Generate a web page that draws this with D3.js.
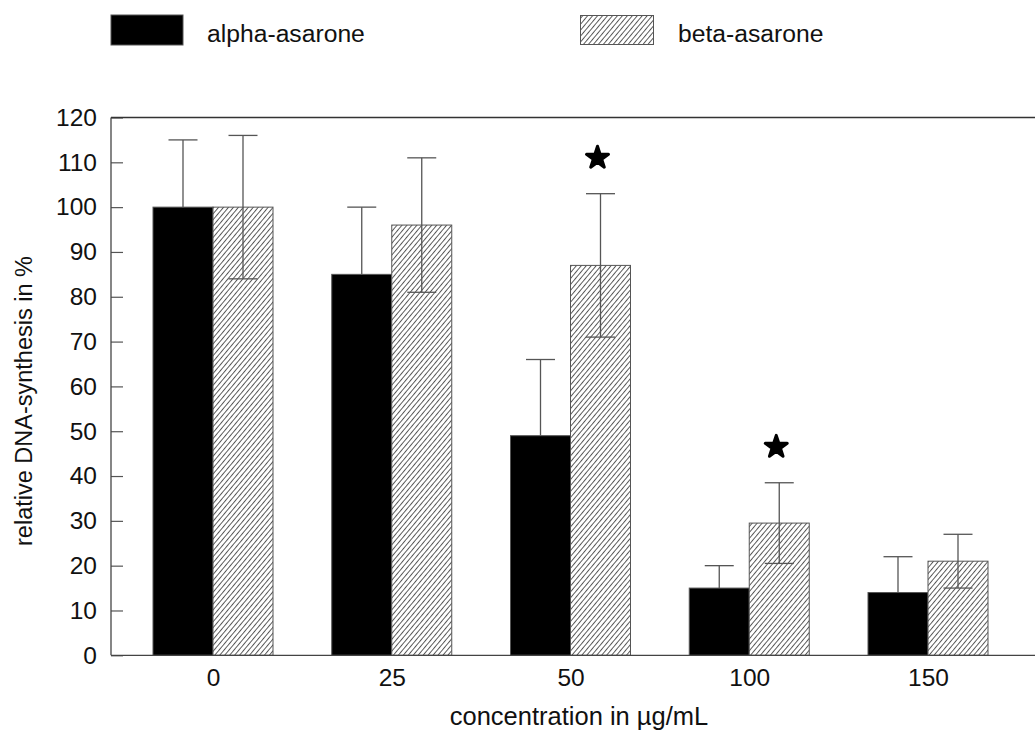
<!DOCTYPE html>
<html>
<head>
<meta charset="utf-8">
<script src="https://cdn.jsdelivr.net/npm/d3@7"></script>
<style>
  html, body { margin: 0; padding: 0; background: #fff; }
  svg { display: block; font-family: "Liberation Sans", Arial, sans-serif; }
</style>
</head>
<body>
<svg id="chart" width="1035" height="730"></svg>
<script>
// ---- data ----
const categories = ["0", "25", "50", "100", "150"];
const alphaMean = [100, 85, 49, 15, 14];
const alphaSD   = [15, 15, 17, 5, 8];
const betaMean  = [100, 96, 87, 29.5, 21];
const betaSD    = [16, 15, 16, 9, 6];
const betaSignificant = [false, false, true, true, false];
const yTicks = [0, 10, 20, 30, 40, 50, 60, 70, 80, 90, 100, 110, 120];
const seriesNames = ["alpha-asarone", "beta-asarone"];

// ---- layout ----
const W = 1035, H = 730;
const plotLeft = 111, plotRight = 1035, plotTop = 117.5, plotBottom = 655.3;
const barW = 60, capW = 29;
const gray = "#555";

const svg = d3.select("#chart");

const defs = svg.append("defs");
const pat = defs.append("pattern")
  .attr("id", "hatch")
  .attr("patternUnits", "userSpaceOnUse")
  .attr("width", 3.8).attr("height", 10)
  .attr("patternTransform", "rotate(40)");
pat.append("rect").attr("width", 3.8).attr("height", 10).attr("fill", "#fff");
pat.append("line").attr("x1", 0.5).attr("y1", 0).attr("x2", 0.5).attr("y2", 10)
  .attr("stroke", "#444").attr("stroke-width", 0.9);

const x = d3.scalePoint().domain(categories).range([213, 928]);
const y = d3.scaleLinear().domain([0, 120]).range([plotBottom, plotTop]);

// bars
const g = svg.append("g");
categories.forEach((c, i) => {
  const cx = x(c);
  g.append("rect")
    .attr("x", cx - barW).attr("y", y(alphaMean[i]))
    .attr("width", barW).attr("height", y(0) - y(alphaMean[i]))
    .attr("fill", "#000").attr("stroke", gray).attr("stroke-width", 1);
  g.append("rect")
    .attr("x", cx).attr("y", y(betaMean[i]))
    .attr("width", barW).attr("height", y(0) - y(betaMean[i]))
    .attr("fill", "url(#hatch)").attr("stroke", gray).attr("stroke-width", 1);
});

// error bars
categories.forEach((c, i) => {
  const ax = x(c) - barW / 2;
  const bx = x(c) + barW / 2;
  g.append("line").attr("x1", ax).attr("x2", ax)
    .attr("y1", y(alphaMean[i])).attr("y2", y(alphaMean[i] + alphaSD[i]))
    .attr("stroke", gray).attr("stroke-width", 1.3);
  g.append("line").attr("x1", ax - capW / 2).attr("x2", ax + capW / 2)
    .attr("y1", y(alphaMean[i] + alphaSD[i])).attr("y2", y(alphaMean[i] + alphaSD[i]))
    .attr("stroke", gray).attr("stroke-width", 1.3);
  g.append("line").attr("x1", bx).attr("x2", bx)
    .attr("y1", y(betaMean[i] - betaSD[i])).attr("y2", y(betaMean[i] + betaSD[i]))
    .attr("stroke", gray).attr("stroke-width", 1.3);
  [betaMean[i] + betaSD[i], betaMean[i] - betaSD[i]].forEach(v => {
    g.append("line").attr("x1", bx - capW / 2).attr("x2", bx + capW / 2)
      .attr("y1", y(v)).attr("y2", y(v))
      .attr("stroke", gray).attr("stroke-width", 1.3);
  });
  if (betaSignificant[i]) {
    g.append("path")
      .attr("d", d3.symbol(d3.symbolStar, 150)())
      .attr("transform", `translate(${bx - 3},${y(betaMean[i] + betaSD[i] + 8)})`)
      .attr("fill", "#000").attr("stroke", "#000")
      .attr("stroke-width", 3).attr("stroke-linejoin", "round");
  }
});

// y axis
const yAxis = d3.axisLeft(y).tickValues(yTicks)
  .tickSizeInner(-12).tickSizeOuter(0).tickPadding(14);
const yg = svg.append("g").attr("transform", `translate(${plotLeft},0)`).call(yAxis);
yg.select(".domain").remove();
yg.selectAll(".tick line").attr("stroke", gray).attr("stroke-width", 1.2);
yg.selectAll(".tick text").attr("font-size", 24.5).attr("fill", "#111")
  .attr("font-family", "Liberation Sans, Arial, sans-serif");

// x axis labels
const xAxis = d3.axisBottom(x).tickSize(0).tickPadding(13);
const xg = svg.append("g").attr("transform", `translate(0,${plotBottom})`).call(xAxis);
xg.select(".domain").remove();
xg.selectAll(".tick text").attr("font-size", 24.5).attr("fill", "#111")
  .attr("font-family", "Liberation Sans, Arial, sans-serif");

// frame lines
svg.append("line").attr("x1", plotLeft).attr("x2", plotRight)
  .attr("y1", plotTop).attr("y2", plotTop).attr("stroke", "#333").attr("stroke-width", 1.5);
svg.append("line").attr("x1", plotLeft).attr("x2", plotRight)
  .attr("y1", plotBottom).attr("y2", plotBottom).attr("stroke", "#444").attr("stroke-width", 1.3);
svg.append("line").attr("x1", plotLeft).attr("x2", plotLeft)
  .attr("y1", plotTop).attr("y2", plotBottom).attr("stroke", "#444").attr("stroke-width", 1.3);

// axis titles
svg.append("text").attr("x", 579).attr("y", 725).attr("text-anchor", "middle")
  .attr("font-size", 25.5).attr("fill", "#111").text("concentration in µg/mL");
svg.append("text").attr("transform", "translate(32,401) rotate(-90)")
  .attr("text-anchor", "middle").attr("font-size", 23.5).attr("fill", "#111")
  .text("relative DNA-synthesis in %");

// legend
const legend = svg.append("g");
legend.append("rect").attr("x", 111).attr("y", 15).attr("width", 72).attr("height", 30)
  .attr("fill", "#000").attr("stroke", gray);
legend.append("text").attr("x", 207).attr("y", 42).attr("font-size", 24.7).attr("fill", "#111")
  .text(seriesNames[0]);
legend.append("rect").attr("x", 580.5).attr("y", 15.5).attr("width", 73).attr("height", 29)
  .attr("fill", "url(#hatch)").attr("stroke", gray);
legend.append("text").attr("x", 678).attr("y", 42).attr("font-size", 24.7).attr("fill", "#111")
  .text(seriesNames[1]);
</script>
</body>
</html>
